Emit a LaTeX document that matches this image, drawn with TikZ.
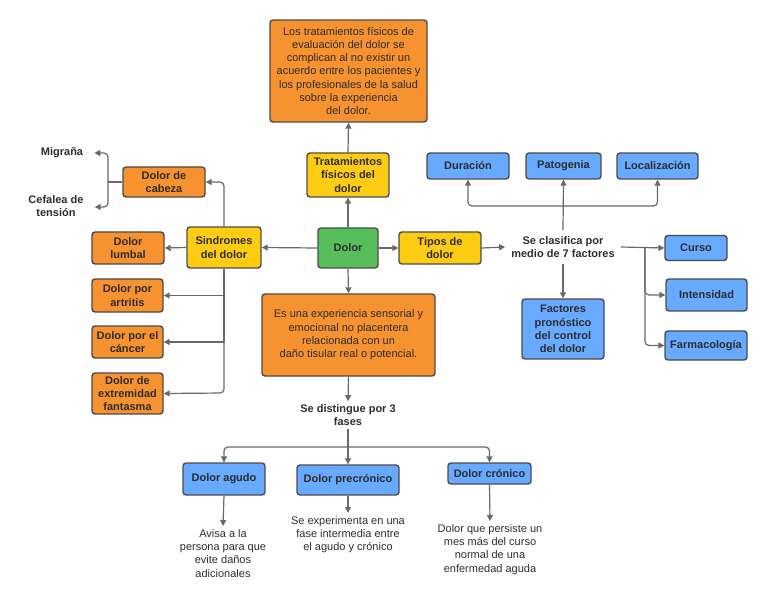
\documentclass[tikz,border=0pt]{standalone}
\usepackage{fontspec}
\setmainfont{Liberation Sans}
\usetikzlibrary{arrows.meta}
\definecolor{orng}{RGB}{247,146,48}
\definecolor{yell}{RGB}{255,204,20}
\definecolor{grn}{RGB}{88,190,90}
\definecolor{blu}{RGB}{104,170,255}
\definecolor{bord}{RGB}{75,75,75}
\definecolor{lin}{RGB}{105,105,105}
\definecolor{txt}{RGB}{45,45,45}
\tikzset{
  box/.style={draw=bord, line width=1.4pt, rounded corners=3pt, align=center, inner sep=0pt, text=txt, font=\fontsize{11}{13.3}\selectfont},
  bbox/.style={box, font=\fontsize{11}{13.3}\selectfont\bfseries},
  ob/.style={bbox, fill=orng},
  yb/.style={bbox, fill=yell},
  bb/.style={bbox, fill=blu},
  lbl/.style={align=center, inner sep=3pt, text=txt, font=\fontsize{11}{13.3}\selectfont},
  blbl/.style={lbl, font=\fontsize{11}{13.3}\selectfont\bfseries},
  arr/.style={draw=lin, line width=1.2pt, -{Triangle[length=6pt,width=6pt]}},
  ln/.style={draw=lin, line width=1.2pt},
}
\begin{document}
\begin{tikzpicture}[x=1pt,y=-1pt]
\useasboundingbox (0,0) rectangle (768,612);
% top
\node[box, fill=orng, minimum width=157, minimum height=102] (top) at (348.5,71) {Los tratamientos físicos de\\evaluación del dolor se\\complican al no existir un\\acuerdo entre los pacientes y\\los profesionales de la salud\\sobre la experiencia\\del dolor.};
\node[yb, minimum width=82, minimum height=44] (trat) at (348,175) {Tratamientos\\físicos del\\dolor};
\node[bbox, fill=grn, minimum width=60, minimum height=40] (dolor) at (348,248) {Dolor};
\node[yb, minimum width=82, minimum height=32] (tipos) at (440,248) {Tipos de\\dolor};
% classification
\node[blbl, inner sep=6pt] (clas) at (563,247) {Se clasifica por\\medio de 7 factores};
\node[bb, minimum width=82, minimum height=26] (dur) at (468,166) {Duración};
\node[bb, minimum width=75, minimum height=26] (pat) at (563.5,166) {Patogenia};
\node[bb, minimum width=81, minimum height=26] (loc) at (657.5,166) {Localización};
\node[bb, minimum width=82, minimum height=60] (fact) at (563,329) {Factores\\pronóstico\\del control\\del dolor};
\node[bb, minimum width=62, minimum height=25] (curso) at (696,248) {Curso};
\node[bb, minimum width=81, minimum height=32] (inten) at (706.5,295) {Intensidad};
\node[bb, minimum width=82, minimum height=29] (farm) at (706,345.5) {Farmacología};
% left
\node[yb, minimum width=74, minimum height=41] (sind) at (224,247.5) {Sindromes\\del dolor};
\node[ob, minimum width=82, minimum height=30] (cabeza) at (164,182) {Dolor de\\cabeza};
\node[ob, minimum width=72, minimum height=32] (lumbal) at (128,248) {Dolor\\lumbal};
\node[ob, minimum width=71, minimum height=33] (artritis) at (127.5,295.5) {Dolor por\\artritis};
\node[ob, minimum width=71, minimum height=32] (cancer) at (127.5,342) {Dolor por el\\cáncer};
\node[ob, minimum width=71, minimum height=41, font=\fontsize{11}{12.8}\selectfont\bfseries] (fant) at (127.5,393.5) {Dolor de\\extremidad\\fantasma};
\node[blbl] (migr) at (62,153) {Migraña};
\node[blbl] (cef) at (56,206) {Cefalea de\\tensión};
% bottom
\node[box, fill=orng, minimum width=173, minimum height=82] (exp) at (348.5,335) {Es una experiencia sensorial y\\emocional no placentera\\relacionada con un\\daño tisular real o potencial.};
\node[blbl] (dist) at (348,415) {Se distingue por 3\\fases};
\node[bb, minimum width=82, minimum height=32] (agudo) at (224,479) {Dolor agudo};
\node[bb, minimum width=102, minimum height=30] (prec) at (348,480) {Dolor precrónico};
\node[bb, minimum width=83, minimum height=21] (cron) at (489.5,473.5) {Dolor crónico};
\node[lbl, anchor=north] (avisa) at (223,526) {Avisa a la\\persona para que\\evite daños\\adicionales};
\node[lbl, anchor=north] (sexp) at (348,513) {Se experimenta en una\\fase intermedia entre\\el agudo y crónico};
\node[lbl, anchor=north] (dque) at (490,521) {Dolor que persiste un\\mes más del curso\\normal de una\\enfermedad aguda};
% coordinates
\coordinate (br) at (108,182);
\coordinate (hub) at (563,206);
\coordinate (hub2) at (645,248);
\coordinate (hub3) at (348,447);
\coordinate (send) at (224,393);
% connectors
\draw[arr] (trat.north) -- (top.south);
\draw[arr] (dolor.north) -- (trat.south);
\draw[arr] (dolor.east) -- (tipos.west);
\draw[arr] (tipos.east) -- (clas.west);
\draw[arr] (clas.north) -- (pat.south);
\draw[arr, rounded corners=4pt] (hub) -| (dur.south);
\draw[arr, rounded corners=4pt] (hub) -| (loc.south);
\draw[arr] (clas.south) -- (fact.north);
\draw[arr] (clas.east) -- (curso.west);
\draw[arr, rounded corners=4pt] (hub2) |- (inten.west);
\draw[arr, rounded corners=4pt] (hub2) |- (farm.west);
\draw[arr] (dolor.west) -- (sind.east);
\draw[arr] (sind.west) -- (lumbal.east);
\draw[arr, rounded corners=4pt] (sind.north) |- (cabeza.east);
\draw[ln] (sind.south) -- (sind.south |- cancer.east);
\draw[arr] (sind.south |- artritis.east) -- (artritis.east);
\draw[arr] (sind.south |- cancer.east) -- (cancer.east);
\draw[arr, rounded corners=4pt] (sind.south |- cancer.east) -- (send) -- (fant.east);
\draw[ln] (cabeza.west) -- (br);
\draw[arr, rounded corners=4pt] (br) |- ([xshift=8pt]migr.east);
\draw[arr, rounded corners=4pt] (br) |- ([xshift=8pt]cef.east |- 0,207);
\draw[arr] (dolor.south) -- (exp.north);
\draw[arr] (exp.south) -- (dist.north);
\draw[arr] (dist.south) -- (prec.north);
\draw[arr, rounded corners=4pt] (hub3) -| (agudo.north);
\draw[arr, rounded corners=4pt] (hub3) -| (cron.north);
\draw[arr] (agudo.south) -- (avisa.north);
\draw[arr] (prec.south) -- (sexp.north);
\draw[arr] (cron.south) -- (dque.north);
\end{tikzpicture}
\end{document}
